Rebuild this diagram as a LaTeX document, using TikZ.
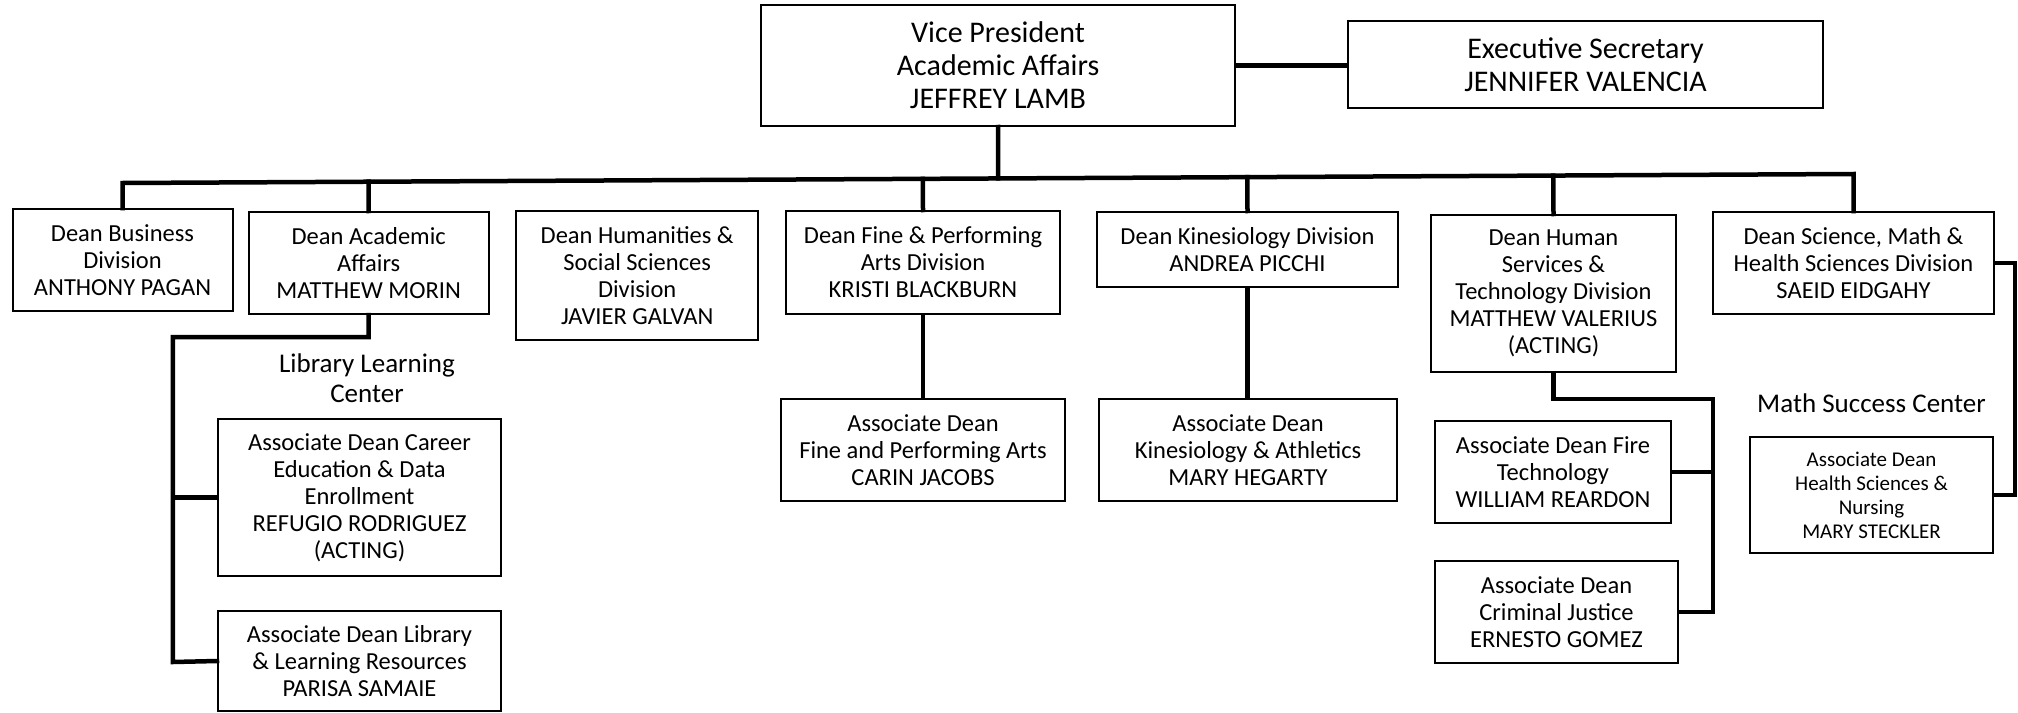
\documentclass[tikz,border=0pt]{standalone}
\usepackage{fontspec}
\setmainfont{Carlito}
\usetikzlibrary{calc}
\tikzset{
  orgbox/.style={draw=black, line width=2pt, align=center, inner sep=0pt, rectangle,
    font=\fontsize{24.5}{27}\selectfont},
  bigbox/.style={orgbox, font=\fontsize{30}{33}\selectfont},
  smallbox/.style={orgbox, font=\fontsize{21}{24}\selectfont},
  lbl/.style={align=center, inner sep=0pt, font=\fontsize{27}{30}\selectfont},
  conn/.style={line width=4.5pt, line join=miter, line cap=rect}
}
\begin{document}
\begin{tikzpicture}[x=1pt, y=-1pt]
\useasboundingbox (0,0) rectangle (2018,712);
\fill[white] (0,0) rectangle (2018,712);

% boxes
\node[bigbox, minimum width=474pt, minimum height=121pt] (vp) at (998,65.5) {Vice President\\Academic Affairs\\JEFFREY LAMB};
\node[bigbox, minimum width=475pt, minimum height=87pt] (exec) at (1585.5,64.5) {Executive Secretary\\JENNIFER VALENCIA};

\node[orgbox, minimum width=220pt, minimum height=102pt] (bus) at (122.5,260) {Dean Business\\Division\\ANTHONY PAGAN};
\node[orgbox, minimum width=240pt, minimum height=102pt] (acad) at (368.7,263) {Dean Academic\\Affairs\\MATTHEW MORIN};
\node[orgbox, minimum width=242.5pt, minimum height=129pt] (hum) at (637.2,275.5) {Dean Humanities \&\\Social Sciences\\Division\\JAVIER GALVAN};
\node[orgbox, minimum width=274pt, minimum height=103pt] (fine) at (923,262.5) {Dean Fine \& Performing\\Arts Division\\KRISTI BLACKBURN};
\node[orgbox, minimum width=301pt, minimum height=75pt] (kin) at (1247.5,249.5) {Dean Kinesiology Division\\ANDREA PICCHI};
\node[orgbox, minimum width=245pt, minimum height=157pt] (hs) at (1553.5,293.5) {Dean Human\\Services \&\\Technology Division\\MATTHEW VALERIUS\\(ACTING)};
\node[orgbox, minimum width=281pt, minimum height=102pt] (sci) at (1853.5,263) {Dean Science, Math \&\\Health Sciences Division\\SAEID EIDGAHY};

\node[orgbox, minimum width=283pt, minimum height=157pt] (career) at (359.5,497.5) {Associate Dean Career\\Education \& Data\\Enrollment\\REFUGIO RODRIGUEZ\\(ACTING)};
\node[orgbox, minimum width=283pt, minimum height=100pt] (lib) at (359.5,661) {Associate Dean Library\\\& Learning Resources\\PARISA SAMAIE};
\node[orgbox, minimum width=284pt, minimum height=102pt] (fineA) at (923,450) {Associate Dean\\Fine and Performing Arts\\CARIN JACOBS};
\node[orgbox, minimum width=298pt, minimum height=102pt] (kinA) at (1248,450) {Associate Dean\\Kinesiology \& Athletics\\MARY HEGARTY};
\node[orgbox, minimum width=236pt, minimum height=102pt] (fire) at (1553,472) {Associate Dean Fire\\Technology\\WILLIAM REARDON};
\node[orgbox, minimum width=243pt, minimum height=102pt] (cj) at (1556.5,612) {Associate Dean\\Criminal Justice\\ERNESTO GOMEZ};
\node[smallbox, minimum width=243pt, minimum height=116pt] (health) at (1871.5,495) {Associate Dean\\Health Sciences \&\\Nursing\\MARY STECKLER};

% labels
\node[lbl] (libl) at (367,378) {Library Learning\\Center};
\node[lbl] (mathl) at (1871.5,403) {Math Success Center};

% connector points
\coordinate (busL) at (122.5,183);
\coordinate (busR) at (1853.5,174);
\coordinate (aTop) at (172.8,337);
\coordinate (aBot) at (172.8,662);
\coordinate (hTop) at (1713,399);
\coordinate (hBot) at (1713,612);
\coordinate (sTop) at (2015,263);
\coordinate (sBot) at (2015,495);

% connectors
\draw[conn] (bus.north) -- (busL) -- (busR) -- (sci.north);
\draw[conn] (vp.south) -- ($(busL)!(vp.south)!(busR)$);
\draw[conn] (acad.north) -- ($(busL)!(acad.north)!(busR)$);
\draw[conn] (fine.north) -- ($(busL)!(fine.north)!(busR)$);
\draw[conn] (kin.north) -- ($(busL)!(kin.north)!(busR)$);
\draw[conn] (hs.north) -- ($(busL)!(hs.north)!(busR)$);
\draw[conn] (vp.east) -- (vp.east -| exec.west);

\draw[conn] (acad.south) |- (aTop) -- (aBot) -- (lib.west);
\draw[conn] (career.west) -- (career.west -| aTop);

\draw[conn] (fine.south) -- (fineA.north);
\draw[conn] (kin.south) -- (kin.south |- kinA.north);

\draw[conn] (hs.south) |- (hTop) -- (hBot) -- (cj.east);
\draw[conn] (fire.east) -- (fire.east -| hTop);

\draw[conn] (sci.east) -- (sTop) -- (sBot) -- (health.east);
\end{tikzpicture}
\end{document}
